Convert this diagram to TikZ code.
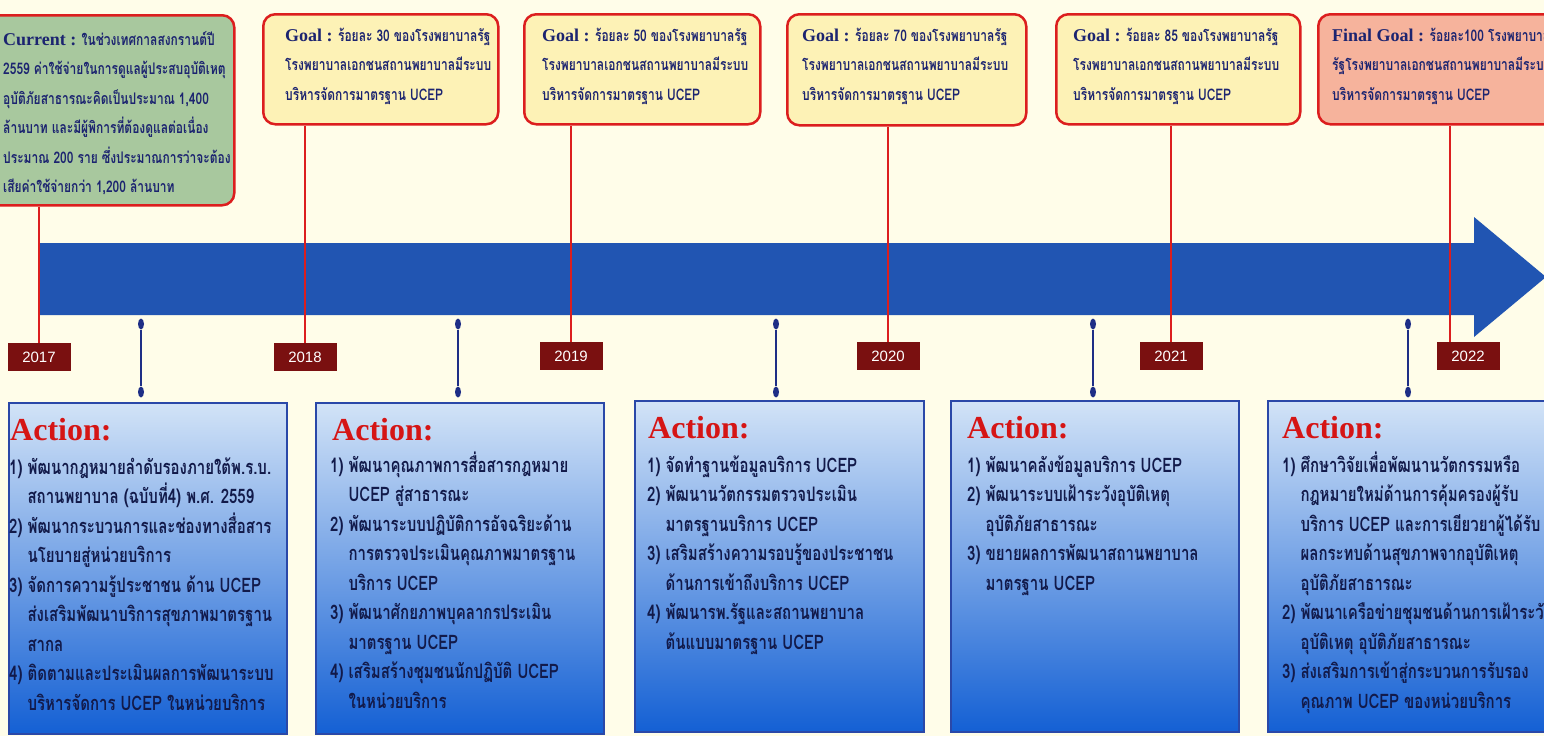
\documentclass[tikz,border=0pt]{standalone}
\usepackage{fontspec}
\setmainfont{Liberation Serif}
\newfontfamily\thaifont[Script=Thai,FakeStretch=0.75]{Loma}
\newfontfamily\yearfont{Liberation Sans}
\usetikzlibrary{shapes.geometric}

\definecolor{bgcream}{HTML}{FFFDE9}
\definecolor{arrowblue}{HTML}{2155B2}
\definecolor{goalred}{HTML}{DC1E1E}
\definecolor{goalfill}{HTML}{FDF2B6}
\definecolor{curfill}{HTML}{A8C89E}
\definecolor{finalfill}{HTML}{F6B39C}
\definecolor{inknavy}{HTML}{1C2470}
\definecolor{yearred}{HTML}{7A1010}
\definecolor{dotnavy}{HTML}{1E2E86}
\definecolor{acttop}{HTML}{D2E3F7}
\definecolor{actmid}{HTML}{4F90E4}
\definecolor{actbot}{HTML}{1460D4}
\definecolor{actedge}{HTML}{2A48A8}
\definecolor{actred}{HTML}{D51515}
\definecolor{actink}{HTML}{121A4A}

\newcommand{\glab}{\rmfamily\fontsize{18}{18}\selectfont}
\newcommand{\hid}{\hphantom{1) }}
\newcommand{\gstrut}{\rule{0pt}{20pt}}
\newcommand{\astrut}{\rule{0pt}{24pt}}

\tikzset{
  goalbox/.style={draw=goalred, line width=2.5pt, rounded corners=12pt, inner sep=0pt, anchor=north west},
  goaltext/.style={anchor=north west, align=left, inner sep=0pt, text=inknavy,
    font=\thaifont\bfseries\fontsize{16}{29.5}\selectfont},
  yearbox/.style={fill=yearred, text=white, minimum width=63pt, minimum height=28pt, inner sep=0pt,
    font=\yearfont\fontsize{15}{15}\selectfont},
  redline/.style={goalred, line width=2.2pt},
  blob/.style={ellipse, fill=dotnavy, minimum width=6pt, minimum height=11pt, inner sep=0pt},
  blobline/.style={dotnavy, line width=2.2pt},
  actbox/.style={draw=actedge, line width=1.5pt, top color=acttop, middle color=actmid, bottom color=actbot,
    minimum height=331pt, inner sep=0pt, anchor=north west},
  acthead/.style={anchor=base west, inner sep=0pt, text=actred, font=\bfseries\fontsize{32}{32}\selectfont},
  acttext/.style={anchor=north west, align=left, inner sep=0pt, text=actink,
    font=\thaifont\bfseries\fontsize{20}{29.5}\selectfont}
}

\begin{document}
\begin{tikzpicture}[x=1pt, y=-1pt]
\useasboundingbox (0,0) rectangle (1544,736);
\clip (0,0) rectangle (1544,736);
\fill[bgcream] (0,0) rectangle (1544,736);

% Time arrow
\fill[arrowblue] (40,243) -- (1474,243) -- (1474,217) -- (1546,277) -- (1474,337) -- (1474,315) -- (40,315) -- cycle;

% Goal boxes
\node[goalbox, fill=curfill, minimum width=253pt, minimum height=190pt] (G1) at (-20,14) {};
\node[goalbox, fill=goalfill, minimum width=235pt, minimum height=110pt] (G2) at (262,13) {};
\node[goalbox, fill=goalfill, minimum width=236pt, minimum height=110pt] (G3) at (523,13) {};
\node[goalbox, fill=goalfill, minimum width=239pt, minimum height=111pt] (G4) at (786,13) {};
\node[goalbox, fill=goalfill, minimum width=244pt, minimum height=110pt] (G5) at (1055,13) {};
\node[goalbox, fill=finalfill, minimum width=250pt, minimum height=110pt] (G6) at (1317,13) {};

% Goal texts
\node[goaltext] (T1) at (3,25) {\gstrut{\glab Current :} ในช่วงเทศกาลสงกรานต์ปี\\
2559 ค่าใช้จ่ายในการดูแลผู้ประสบอุบัติเหตุ\\
อุบัติภัยสาธารณะคิดเป็นประมาณ 1,400\\
ล้านบาท และมีผู้พิการที่ต้องดูแลต่อเนื่อง\\
ประมาณ 200 ราย ซึ่งประมาณการว่าจะต้อง\\
เสียค่าใช้จ่ายกว่า 1,200 ล้านบาท};
\node[goaltext] (T2) at (285,21) {\gstrut{\glab Goal :} ร้อยละ 30 ของโรงพยาบาลรัฐ\\
โรงพยาบาลเอกชนสถานพยาบาลมีระบบ\\
บริหารจัดการมาตรฐาน UCEP};
\node[goaltext] (T3) at (542,21) {\gstrut{\glab Goal :} ร้อยละ 50 ของโรงพยาบาลรัฐ\\
โรงพยาบาลเอกชนสถานพยาบาลมีระบบ\\
บริหารจัดการมาตรฐาน UCEP};
\node[goaltext] (T4) at (802,21) {\gstrut{\glab Goal :} ร้อยละ 70 ของโรงพยาบาลรัฐ\\
โรงพยาบาลเอกชนสถานพยาบาลมีระบบ\\
บริหารจัดการมาตรฐาน UCEP};
\node[goaltext] (T5) at (1073,21) {\gstrut{\glab Goal :} ร้อยละ 85 ของโรงพยาบาลรัฐ\\
โรงพยาบาลเอกชนสถานพยาบาลมีระบบ\\
บริหารจัดการมาตรฐาน UCEP};
\node[goaltext] (T6) at (1332,21) {\gstrut{\glab Final Goal :} ร้อยละ100 โรงพยาบาล\\
รัฐโรงพยาบาลเอกชนสถานพยาบาลมีระบบ\\
บริหารจัดการมาตรฐาน UCEP};

% Years
\node[yearbox] (Y1) at (39,357) {2017};
\node[yearbox] (Y2) at (305,357) {2018};
\node[yearbox] (Y3) at (571,356) {2019};
\node[yearbox] (Y4) at (888,356) {2020};
\node[yearbox] (Y5) at (1171,356) {2021};
\node[yearbox] (Y6) at (1468,356) {2022};
\coordinate (L6) at ([xshift=-18pt]Y6.north);

% Goal to year lines
\draw[redline] (G1.south -| Y1.north) -- (Y1.north);
\draw[redline] (G2.south -| Y2.north) -- (Y2.north);
\draw[redline] (G3.south -| Y3.north) -- (Y3.north);
\draw[redline] (G4.south -| Y4.north) -- (Y4.north);
\draw[redline] (G5.south -| Y5.north) -- (Y5.north);
\draw[redline] (G6.south -| L6) -- (L6);

% Links down to the actions
\foreach \x [count=\i] in {141,458,776,1093,1408} {
  \node[blob] (B\i) at (\x,324) {};
  \node[blob] (C\i) at (\x,392) {};
  \draw[blobline] (B\i) -- (C\i);
}

% Action boxes
\node[actbox, minimum width=278pt] (A1) at (8,402) {};
\node[actbox, minimum width=288pt] (A2) at (315,402) {};
\node[actbox, minimum width=289pt] (A3) at (634,400) {};
\node[actbox, minimum width=288pt] (A4) at (950,400) {};
\node[actbox, minimum width=290pt] (A5) at (1267,400) {};

% Action titles
\node[acthead] (H1) at (10,440) {Action:};
\node[acthead] (H2) at (332,440) {Action:};
\node[acthead] (H3) at (648,438) {Action:};
\node[acthead] (H4) at (967,438) {Action:};
\node[acthead] (H5) at (1282,438) {Action:};

% Action items
\node[acttext] (I1) at (9,450) {\astrut 1) พัฒนากฎหมายลำดับรองภายใต้พ.ร.บ.\\
\hid สถานพยาบาล (ฉบับที่4) พ.ศ. 2559\\
2) พัฒนากระบวนการและช่องทางสื่อสาร\\
\hid นโยบายสู่หน่วยบริการ\\
3) จัดการความรู้ประชาชน ด้าน UCEP\\
\hid ส่งเสริมพัฒนาบริการสุขภาพมาตรฐาน\\
\hid สากล\\
4) ติดตามและประเมินผลการพัฒนาระบบ\\
\hid บริหารจัดการ UCEP ในหน่วยบริการ};
\node[acttext] (I2) at (330,448) {\astrut 1) พัฒนาคุณภาพการสื่อสารกฎหมาย\\
\hid UCEP สู่สาธารณะ\\
2) พัฒนาระบบปฏิบัติการอัจฉริยะด้าน\\
\hid การตรวจประเมินคุณภาพมาตรฐาน\\
\hid บริการ UCEP\\
3) พัฒนาศักยภาพบุคลากรประเมิน\\
\hid มาตรฐาน UCEP\\
4) เสริมสร้างชุมชนนักปฏิบัติ UCEP\\
\hid ในหน่วยบริการ};
\node[acttext] (I3) at (647,448) {\astrut 1) จัดทำฐานข้อมูลบริการ UCEP\\
2) พัฒนานวัตกรรมตรวจประเมิน\\
\hid มาตรฐานบริการ UCEP\\
3) เสริมสร้างความรอบรู้ของประชาชน\\
\hid ด้านการเข้าถึงบริการ UCEP\\
4) พัฒนารพ.รัฐและสถานพยาบาล\\
\hid ต้นแบบมาตรฐาน UCEP};
\node[acttext] (I4) at (967,448) {\astrut 1) พัฒนาคลังข้อมูลบริการ UCEP\\
2) พัฒนาระบบเฝ้าระวังอุบัติเหตุ\\
\hid อุบัติภัยสาธารณะ\\
3) ขยายผลการพัฒนาสถานพยาบาล\\
\hid มาตรฐาน UCEP};
\node[acttext] (I5) at (1282,448) {\astrut 1) ศึกษาวิจัยเพื่อพัฒนานวัตกรรมหรือ\\
\hid กฎหมายใหม่ด้านการคุ้มครองผู้รับ\\
\hid บริการ UCEP และการเยียวยาผู้ได้รับ\\
\hid ผลกระทบด้านสุขภาพจากอุบัติเหตุ\\
\hid อุบัติภัยสาธารณะ\\
2) พัฒนาเครือข่ายชุมชนด้านการเฝ้าระวัง\\
\hid อุบัติเหตุ อุบัติภัยสาธารณะ\\
3) ส่งเสริมการเข้าสู่กระบวนการรับรอง\\
\hid คุณภาพ UCEP ของหน่วยบริการ};

\end{tikzpicture}
\end{document}
